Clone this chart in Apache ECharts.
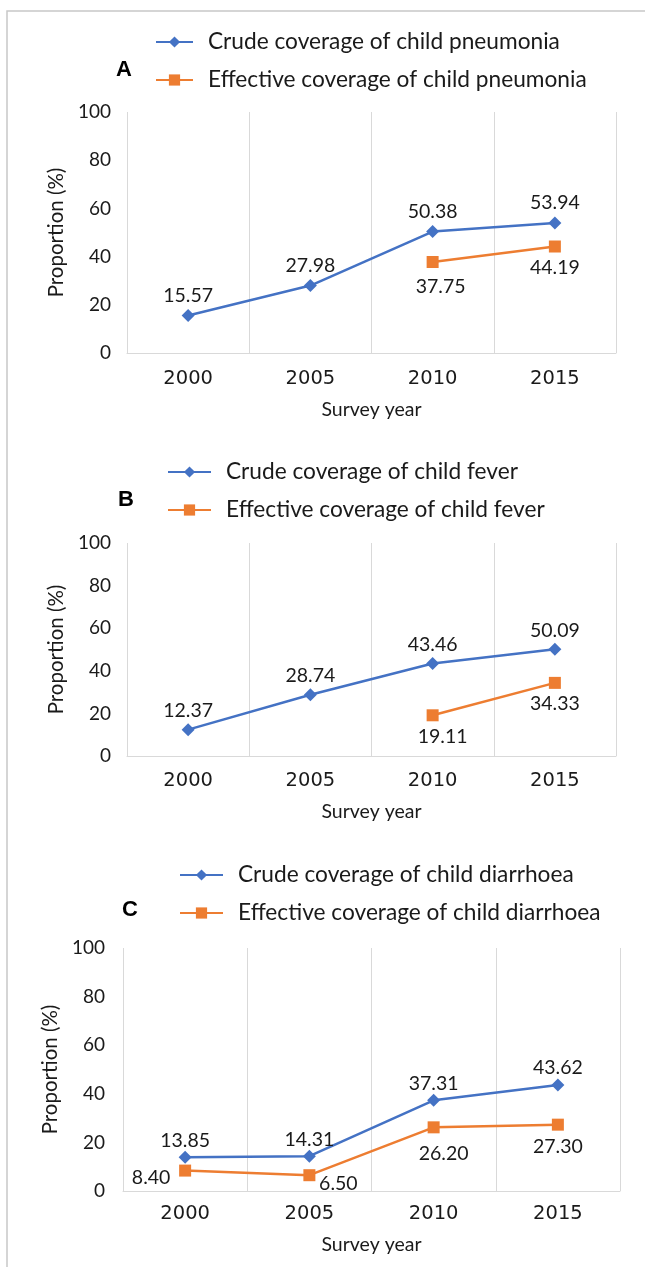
<!DOCTYPE html>
<html>
<head>
<meta charset="utf-8">
<title>Crude and effective coverage of child illness treatment</title>
<script src="https://cdn.jsdelivr.net/npm/echarts@6/dist/echarts.min.js"></script>
<style>
  html, body { margin: 0; padding: 0; background: #ffffff; }
  #chart { width: 645px; height: 1267px; }
</style>
</head>
<body>
<div id="chart"></div>
<script>
// Survey years shared by all three panels
const years = ['2000', '2005', '2010', '2015'];

// Panel A: child pneumonia (%)
const pneumoniaCrude = [15.57, 27.98, 50.38, 53.94];
const pneumoniaEffective = [null, null, 37.75, 44.19];

// Panel B: child fever (%)
const feverCrude = [12.37, 28.74, 43.46, 50.09];
const feverEffective = [null, null, 19.11, 34.33];

// Panel C: child diarrhoea (%)
const diarrhoeaCrude = [13.85, 14.31, 37.31, 43.62];
const diarrhoeaEffective = [8.40, 6.50, 26.20, 27.30];

// Value axis range shared by the panels
const yMin = 0, yMax = 100, yStep = 20;

const BLUE = '#4472C4';
const ORANGE = '#ED7D31';
const GRIDLINE = '#d9d9d9';
const TEXT = '#1a1a1a';
const FONT = 'Lato, "Open Sans", sans-serif';
const YEAR_FONT = '"DejaVu Sans", Lato, sans-serif';

// Layout of each panel: plot box, legend block, panel letter, label nudges
const panels = [
  {
    letter: 'A',
    crudeName: 'Crude coverage of child pneumonia',
    effName: 'Effective coverage of child pneumonia',
    crude: pneumoniaCrude, eff: pneumoniaEffective,
    grid: { left: 127, right: 29, top: 112, height: 241 },
    legend: { left: 155, top: 29, itemWidth: 37 },
    letterPos: { left: 116, top: 59 },
    crudeLabelDy: -20,
    effOffsets: [null, null, [8, 25], [0, 21]],
    xLabelMargin: 16, xNameGap: 47, yNameGap: 52, yLabelMargin: 16
  },
  {
    letter: 'B',
    crudeName: 'Crude coverage of child fever',
    effName: 'Effective coverage of child fever',
    crude: feverCrude, eff: feverEffective,
    grid: { left: 127, right: 29, top: 543, height: 213 },
    legend: { left: 167, top: 459, itemWidth: 43 },
    letterPos: { left: 118, top: 489 },
    crudeLabelDy: -19,
    effOffsets: [null, null, [10, 21], [0, 21]],
    xLabelMargin: 15, xNameGap: 46, yNameGap: 52, yLabelMargin: 16
  },
  {
    letter: 'C',
    crudeName: 'Crude coverage of child diarrhoea',
    effName: 'Effective coverage of child diarrhoea',
    crude: diarrhoeaCrude, eff: diarrhoeaEffective,
    grid: { left: 123, right: 25, top: 948, height: 243 },
    legend: { left: 179, top: 862, itemWidth: 43 },
    letterPos: { left: 122, top: 899 },
    crudeLabelDy: -17,
    effOffsets: [[-34, 7], [29, 9], [10, 26], [0, 22]],
    xLabelMargin: 13, xNameGap: 44, yNameGap: 54, yLabelMargin: 18
  }
];

const grids = [], xAxes = [], yAxes = [], series = [], legends = [], titles = [];

panels.forEach((p, i) => {
  grids.push(Object.assign({ containLabel: false }, p.grid));

  xAxes.push({
    type: 'category',
    gridIndex: i,
    data: years,
    boundaryGap: true,
    axisLine: { show: true, lineStyle: { color: GRIDLINE, width: 1 } },
    axisTick: { show: false },
    axisLabel: { color: TEXT, fontFamily: YEAR_FONT, fontSize: 19.5, margin: p.xLabelMargin },
    splitLine: { show: true, lineStyle: { color: GRIDLINE, width: 1 } },
    name: 'Survey year',
    nameLocation: 'middle',
    nameGap: p.xNameGap,
    nameTextStyle: { color: TEXT, fontFamily: FONT, fontSize: 19.5 }
  });

  yAxes.push({
    type: 'value',
    gridIndex: i,
    min: yMin, max: yMax, interval: yStep,
    axisLine: { show: false },
    axisTick: { show: false },
    splitLine: { show: false },
    axisLabel: { color: TEXT, fontFamily: FONT, fontSize: 19, margin: p.yLabelMargin },
    name: 'Proportion (%)',
    nameLocation: 'middle',
    nameGap: p.yNameGap,
    nameTextStyle: { color: TEXT, fontFamily: FONT, fontSize: 20.5 }
  });

  const labelBase = {
    show: true,
    position: 'inside',
    color: TEXT,
    fontFamily: FONT,
    fontSize: 19.5,
    formatter: (d) => Number(d.value).toFixed(2)
  };

  series.push({
    name: p.crudeName,
    type: 'line',
    xAxisIndex: i, yAxisIndex: i,
    data: p.crude,
    symbol: 'diamond',
    symbolSize: 13,
    lineStyle: { color: BLUE, width: 2.5 },
    itemStyle: { color: BLUE },
    label: Object.assign({}, labelBase, { offset: [0, p.crudeLabelDy] }),
    animation: false,
    z: 3
  });

  series.push({
    name: p.effName,
    type: 'line',
    xAxisIndex: i, yAxisIndex: i,
    data: p.eff.map((v, k) => v == null ? '-' : {
      value: v,
      label: { offset: p.effOffsets[k] }
    }),
    symbol: 'rect',
    symbolSize: 12,
    lineStyle: { color: ORANGE, width: 2.5 },
    itemStyle: { color: ORANGE },
    label: labelBase,
    animation: false,
    z: 2
  });

  legends.push({
    orient: 'vertical',
    left: p.legend.left,
    top: p.legend.top,
    itemWidth: p.legend.itemWidth,
    itemHeight: 14,
    itemGap: 12,
    padding: 0,
    data: [p.crudeName, p.effName],
    textStyle: {
      color: TEXT, fontFamily: FONT, fontSize: 22.7, lineHeight: 26,
      padding: [0, 0, 0, 10]
    }
  });

  titles.push({
    text: p.letter,
    left: p.letterPos.left,
    top: p.letterPos.top,
    padding: 0,
    textStyle: {
      color: '#000', fontFamily: '"Liberation Sans", Arial, sans-serif',
      fontWeight: 'bold', fontSize: 22, lineHeight: 22
    }
  });
});

const chart = echarts.init(document.getElementById('chart'), null, { renderer: 'canvas' });
chart.setOption({
  backgroundColor: '#ffffff',
  animation: false,
  title: titles,
  legend: legends,
  grid: grids,
  xAxis: xAxes,
  yAxis: yAxes,
  series: series,
  graphic: [{
    type: 'rect',
    silent: true,
    shape: { x: 7, y: 11, width: 700, height: 1300 },
    style: { fill: 'none', stroke: '#c8c8c8', lineWidth: 1.5 }
  }]
});
</script>
</body>
</html>
